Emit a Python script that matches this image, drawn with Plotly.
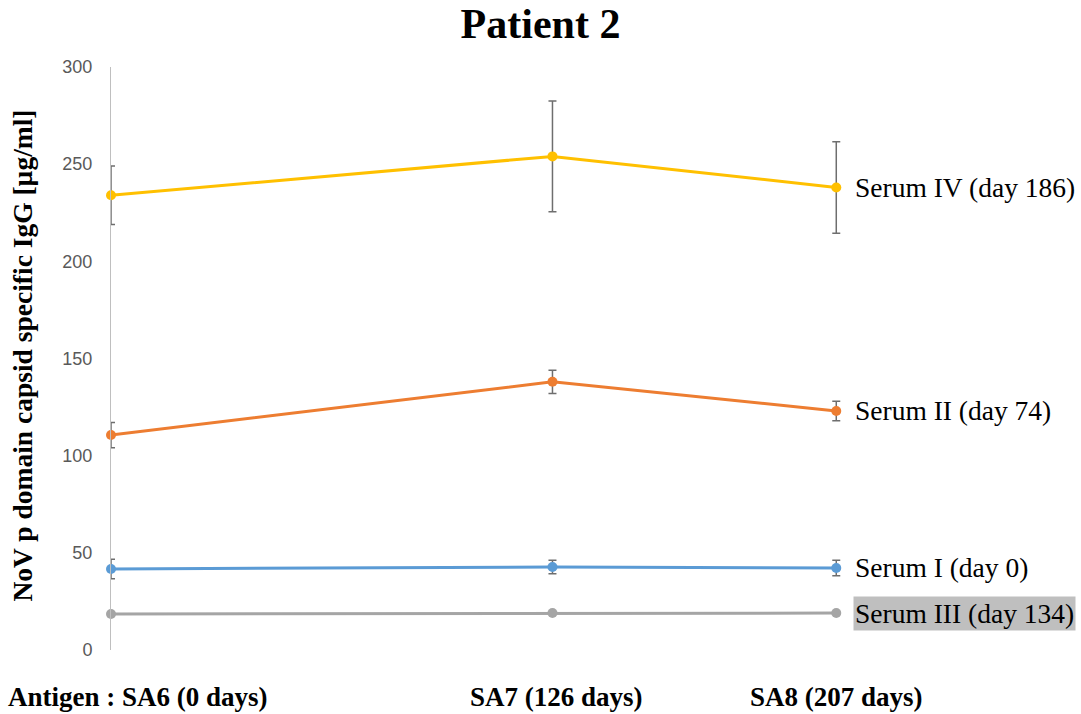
import plotly.graph_objects as go

# Sampling time of each antigen (days)
days = [0, 126, 207]
antigen_labels = ["Antigen : SA6 (0 days)", "SA7 (126 days)", "SA8 (207 days)"]

# IgG concentration (µg/ml) per serum, with error (± µg/ml)
serum_names = ["Serum I (day 0)", "Serum II (day 74)", "Serum III (day 134)", "Serum IV (day 186)"]
serum_i = [41.7, 42.7, 42.2]
serum_i_err = [5.0, 3.5, 4.0]
serum_ii = [110.6, 138.0, 123.0]
serum_ii_err = [6.5, 6.0, 5.0]
serum_iii = [18.5, 19.0, 19.0]
serum_iii_err = [0.0, 0.0, 0.0]
serum_iv = [234.0, 254.0, 238.0]
serum_iv_err = [15.0, 28.5, 23.5]

y_ticks = [0, 50, 100, 150, 200, 250, 300]

series = [
    (serum_names[0], serum_i, serum_i_err, "#5B9BD5"),
    (serum_names[1], serum_ii, serum_ii_err, "#ED7D31"),
    (serum_names[2], serum_iii, serum_iii_err, "#A5A5A5"),
    (serum_names[3], serum_iv, serum_iv_err, "#FFC000"),
]

SERIF = "Liberation Serif, Times New Roman, serif"
SANS = "Liberation Sans, Arial, sans-serif"

fig = go.Figure()
for name, vals, errs, color in series:
    fig.add_trace(go.Scatter(
        x=days, y=vals, name=name, mode="lines+markers",
        line=dict(color=color, width=3),
        marker=dict(color=color, size=10),
        error_y=dict(type="data", array=errs, visible=any(e > 0 for e in errs),
                     color="#6E6E6E", thickness=1.5, width=4),
        cliponaxis=False,
        showlegend=False,
    ))
    # series label to the right of the last point
    ann = dict(x=days[-1], y=vals[-1], xref="x", yref="y", text=name,
               showarrow=False, xanchor="left", yanchor="middle", xshift=17,
               font=dict(family=SERIF, size=27.5, color="#000000"))
    if name == serum_names[2]:
        ann.update(bgcolor="#BFBFBF", borderpad=1)
    fig.add_annotation(**ann)

# antigen labels under the plot
fig.add_annotation(x=days[0], y=0, xref="x", yref="paper", text=antigen_labels[0],
                   showarrow=False, xanchor="left", yanchor="top", xshift=-105, yshift=-30,
                   font=dict(family=SERIF, size=27, color="#000000", weight="bold"))
for d, lab in zip(days[1:], antigen_labels[1:]):
    fig.add_annotation(x=d, y=0, xref="x", yref="paper", text=lab,
                       showarrow=False, xanchor="center", yanchor="top", yshift=-30,
                       xshift=4 if d == days[1] else 0,
                       font=dict(family=SERIF, size=27, color="#000000", weight="bold"))

# y-axis title
fig.add_annotation(x=0, y=0.5, xref="paper", yref="paper",
                   text="NoV p domain capsid specific IgG [µg/ml]",
                   textangle=-90, showarrow=False, xanchor="center", yanchor="middle",
                   xshift=-89, yshift=3,
                   font=dict(family=SERIF, size=27.5, color="#000000", weight="bold"))

fig.update_layout(
    width=1081, height=714,
    margin=dict(l=111, r=24, t=67, b=64),
    paper_bgcolor="white", plot_bgcolor="white",
    title=dict(text="<b>Patient 2</b>", x=0.5, xref="container", xanchor="center",
               y=0.988, yref="container", yanchor="top",
               font=dict(family=SERIF, size=42, color="#000000")),
    xaxis=dict(range=[0, 270], showgrid=False, zeroline=False, showline=False,
               showticklabels=False, ticks=""),
    yaxis=dict(range=[0, 300], tickvals=y_ticks, showgrid=False, zeroline=False,
               showline=True, linecolor="#BFBFBF", linewidth=1, ticks="",
               ticklabelstandoff=14,
               tickfont=dict(family=SANS, size=18, color="#595959")),
)

fig.write_html("out.html")
